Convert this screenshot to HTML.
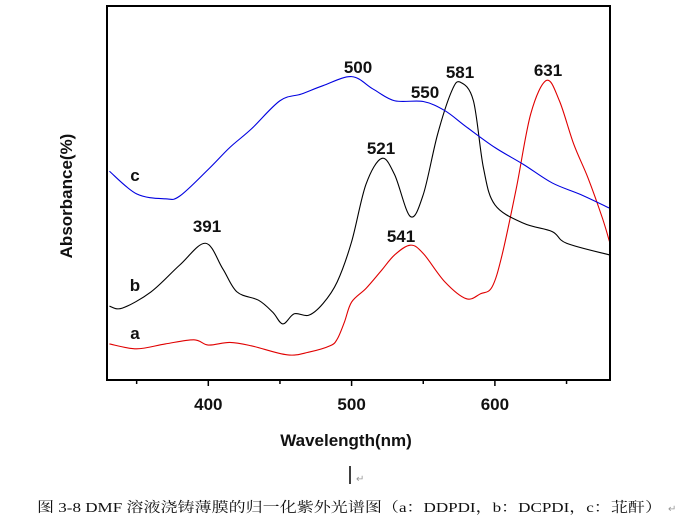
<!DOCTYPE html>
<html><head><meta charset="utf-8"><style>
body{margin:0;background:#fff;width:685px;height:522px;overflow:hidden}
svg text{font-family:"Liberation Sans",sans-serif}
</style></head><body>
<svg id="chart" width="685" height="522" viewBox="0 0 685 522" xmlns="http://www.w3.org/2000/svg">
<g id="ticks"></g>
<g id="series"></g>
<rect x="107" y="6" width="503" height="374" fill="none" stroke="#000" stroke-width="2"/>
<g font-weight="bold" font-size="17" fill="#111">
<text x="358" y="73" text-anchor="middle">500</text>
<text x="425" y="98" text-anchor="middle">550</text>
<text x="460" y="78" text-anchor="middle">581</text>
<text x="548" y="76" text-anchor="middle">631</text>
<text x="381" y="154" text-anchor="middle">521</text>
<text x="207" y="232" text-anchor="middle">391</text>
<text x="401" y="242" text-anchor="middle">541</text>
<text x="135" y="181" text-anchor="middle">c</text>
<text x="135" y="291" text-anchor="middle">b</text>
<text x="135" y="339" text-anchor="middle">a</text>
<text x="346" y="446" text-anchor="middle">Wavelength(nm)</text>
<text transform="translate(72,196) rotate(-90)" text-anchor="middle">Absorbance(%)</text>
</g>
<line x1="350" y1="466" x2="350" y2="484" stroke="#000" stroke-width="1.5"/>
<text x="356" y="482" font-size="10" fill="#999">↵</text>
<text x="37" y="512" font-size="14" fill="#111" textLength="625" lengthAdjust="spacingAndGlyphs" style="font-family:'Liberation Serif','Noto Serif CJK SC',serif">图 3-8 DMF 溶液浇铸薄膜的归一化紫外光谱图（a：DDPDI，b：DCPDI，c：苝酐）</text>
<text x="668" y="512" font-size="10" fill="#999">↵</text>
</svg>
<script>
const xTicks=[350,400,450,500,550,600,650];
const xTickLabels=["","400","","500","","600",""];
const nmA=[331,350,370,390,400,415,430,455,470,485,490,495,500,510,520,530,541,550,565,580,590,598,605,615,625,636,645,655,665,675,680];
const valA=[10.1,8.8,10.1,11.2,9.8,10.5,9.6,7.2,7.9,9.6,11.4,15.9,21.2,24.8,29.2,33.7,36.3,34.1,26.6,22.1,23.4,25.2,33.7,51.5,71.1,80.0,74.6,63.1,54.1,43.5,37.2];
const nmB=[331,340,360,380,398,410,420,435,445,452,460,470,480,490,500,510,521,530,541,550,560,570,576,585,592,600,620,640,650,680];
const valB=[20.1,19.6,23.9,31.0,36.8,30.1,23.9,21.7,18.5,15.4,18.1,17.7,20.8,26.6,37.2,52.4,59.3,55.0,43.9,49.7,65.7,77.3,79.5,74.6,56.8,47.0,42.1,39.9,36.8,33.7];
const nmC=[331,350,370,380,400,415,430,450,465,480,500,515,530,550,565,580,600,620,640,660,680];
const valC=[55.9,49.9,48.6,49.3,56.4,62.2,67.1,74.6,76.4,78.6,81.0,77.7,74.6,74.4,72.0,67.7,62.2,57.7,52.8,49.7,46.1];
const X=nm=>Math.min(610,Math.max(107,208.3+(nm-400)*1.433));
const Y=v=>382-v*3.77;
const NS="http://www.w3.org/2000/svg";
const tg=document.getElementById('ticks');
xTicks.forEach((t,i)=>{
  const l=document.createElementNS(NS,'line');
  l.setAttribute('x1',X(t));l.setAttribute('x2',X(t));l.setAttribute('y1',380);l.setAttribute('y2',xTickLabels[i]?386:384);
  l.setAttribute('stroke','#000');l.setAttribute('stroke-width','1.5');
  
  
  tg.appendChild(l);
  if(xTickLabels[i]){
    const tx=document.createElementNS(NS,'text');
    tx.setAttribute('x',X(t));tx.setAttribute('y',410);tx.setAttribute('text-anchor','middle');
    tx.setAttribute('font-size','17');tx.setAttribute('font-weight','bold');tx.setAttribute('fill','#111');
    tx.textContent=xTickLabels[i];
    
    
    tg.appendChild(tx);
  }
});
function pathFor(xs,vs){
  const p=xs.map((x,i)=>[X(x),Y(vs[i])]);
  let d='M'+p[0][0]+','+p[0][1];
  for(let i=0;i<p.length-1;i++){
    const p0=p[i-1]||p[i],p1=p[i],p2=p[i+1],p3=p[i+2]||p2;
    const c1=[p1[0]+(p2[0]-p0[0])/6,p1[1]+(p2[1]-p0[1])/6];
    const c2=[p2[0]-(p3[0]-p1[0])/6,p2[1]-(p3[1]-p1[1])/6];
    d+=` C${c1[0]},${c1[1]} ${c2[0]},${c2[1]} ${p2[0]},${p2[1]}`;
  }
  return d;
}
const sg=document.getElementById('series');
[[nmA,valA,'#e00000','series-a-ddpdi'],[nmB,valB,'#000','series-b-dcpdi'],[nmC,valC,'#0000e0','series-c-anhydride']].forEach(s=>{
  const p=document.createElementNS(NS,'path');
  p.setAttribute('d',pathFor(s[0],s[1]));
  p.setAttribute('fill','none');p.setAttribute('stroke',s[2]);p.setAttribute('stroke-width','1.1');
  
  
  sg.appendChild(p);
});
</script>
</body></html>
